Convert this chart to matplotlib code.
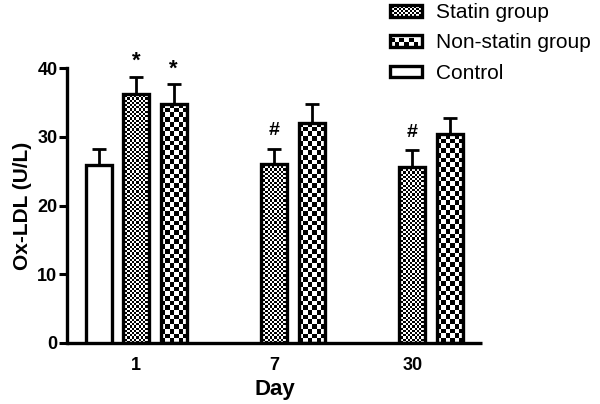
import numpy as np
import matplotlib
matplotlib.use("Agg")
import matplotlib.pyplot as plt
from matplotlib.patches import Rectangle
from matplotlib.legend_handler import HandlerBase

plt.rcParams['font.family'] = ['Liberation Sans', 'DejaVu Sans']

# data
days = ['1', '7', '30']
control_mean = [25.9]
control_err = [2.4]
statin_mean = [36.3, 26.0, 25.6]
statin_err = [2.5, 2.3, 2.5]
nonstatin_mean = [34.8, 32.1, 30.4]
nonstatin_err = [2.9, 2.7, 2.4]
statin_marks = ['*', '#', '#']
nonstatin_marks = ['*', '', '']

group_gap = 3.68   # distance between day groups, in bar steps
width = 0.7
centers = np.arange(len(days)) * group_gap

fig = plt.figure(figsize=(6, 4.04), dpi=100)
ax = fig.add_axes([0.112, 0.151, 0.692, 0.680])
ax.set_xlim(-1.84, 9.23)
ax.set_ylim(0, 40)

FINE = 2.2   # checker cell size in pixels
COARSE = 4.7
LW = 2.4


def checker_bar(x, h, cell):
    # draw a checkerboard fill inside one bar
    x0, x1 = x - width / 2, x + width / 2
    p0 = ax.transData.transform((x0, 0))
    p1 = ax.transData.transform((x1, h))
    nx = max(1, int(round((p1[0] - p0[0]) / cell)))
    ny = max(1, int(round((p1[1] - p0[1]) / cell)))
    board = np.indices((ny, nx)).sum(0) % 2
    ax.imshow(board, cmap='gray', extent=(x0, x1, 0, h), aspect='auto',
              interpolation='nearest', zorder=2, vmin=0, vmax=1)


# control bar
ax.bar(centers[:1] - 1, control_mean, width, facecolor='white',
       edgecolor='black', linewidth=LW, zorder=3)
ax.errorbar(centers[:1] - 1, control_mean, yerr=[[0], control_err],
            fmt='none', ecolor='black', elinewidth=2, capsize=5,
            capthick=2, zorder=1)

for xs, means, errs, cell in [(centers, statin_mean, statin_err, FINE),
                              (centers + 1, nonstatin_mean, nonstatin_err, COARSE)]:
    for x, m in zip(xs, means):
        checker_bar(x, m, cell)
    ax.bar(xs, means, width, facecolor='none', edgecolor='black',
           linewidth=LW, zorder=3)
    ax.errorbar(xs, means, yerr=[np.zeros(len(errs)), errs], fmt='none',
                ecolor='black', elinewidth=2, capsize=5, capthick=2, zorder=1)

for x, m, e, s in zip(centers, statin_mean, statin_err, statin_marks):
    off = 2.2 if s == '*' else 2.6
    ax.text(x, m + e + off, s, ha='center', va='center',
            fontsize=16 if s == '*' else 14, fontweight='bold')
for x, m, e, s in zip(centers + 1, nonstatin_mean, nonstatin_err, nonstatin_marks):
    if s:
        ax.text(x, m + e + 2.2, s, ha='center', va='center', fontsize=16,
                fontweight='bold')

ax.set_xticks(centers)
ax.set_xticklabels(days)
ax.set_yticks([0, 10, 20, 30, 40])
ax.tick_params(axis='x', length=0, pad=10, labelsize=13)
ax.tick_params(axis='y', length=6, width=2.2, pad=1, labelsize=13)
for lab in ax.get_xticklabels() + ax.get_yticklabels():
    lab.set_fontweight('bold')
ax.set_xlabel('Day', fontsize=16, fontweight='bold', labelpad=4)
ax.set_ylabel('Ox-LDL (U/L)', fontsize=15, fontweight='bold', labelpad=4)

for side in ['top', 'right']:
    ax.spines[side].set_visible(False)
for side in ['left', 'bottom']:
    ax.spines[side].set_linewidth(LW)
ax.spines['bottom'].set_capstyle('butt')


class CheckerHandler(HandlerBase):
    def __init__(self, cell):
        super().__init__()
        self.cell = cell

    def create_artists(self, legend, orig_handle, xdescent, ydescent,
                       width, height, fontsize, trans):
        arts = [Rectangle((-xdescent, -ydescent), width, height,
                          facecolor='white', edgecolor='none', transform=trans)]
        if self.cell:
            c = self.cell * 0.72
            nx = int(width / c)
            ny = max(1, int(height / c))
            for i in range(nx):
                for j in range(ny):
                    if (i + j) % 2:
                        arts.append(Rectangle((-xdescent + i * c, -ydescent + j * c),
                                              c, c, facecolor='black',
                                              edgecolor='none', transform=trans))
        arts.append(Rectangle((-xdescent, -ydescent), width, height,
                              facecolor='none', edgecolor='black',
                              linewidth=LW, transform=trans))
        return arts


h1, h2, h3 = Rectangle((0, 0), 1, 1), Rectangle((0, 0), 1, 1), Rectangle((0, 0), 1, 1)
fig.legend([h1, h2, h3], ['Statin group', 'Non-statin group', 'Control'],
           handler_map={h1: CheckerHandler(FINE), h2: CheckerHandler(COARSE),
                        h3: CheckerHandler(0)},
           loc='upper left', bbox_to_anchor=(390 / 600, 1 - 3 / 404),
           frameon=False, fontsize=15, borderpad=0, borderaxespad=0,
           handlelength=1.55, handleheight=0.5, handletextpad=0.65,
           labelspacing=0.55)

fig.savefig('out.png', dpi=100)
